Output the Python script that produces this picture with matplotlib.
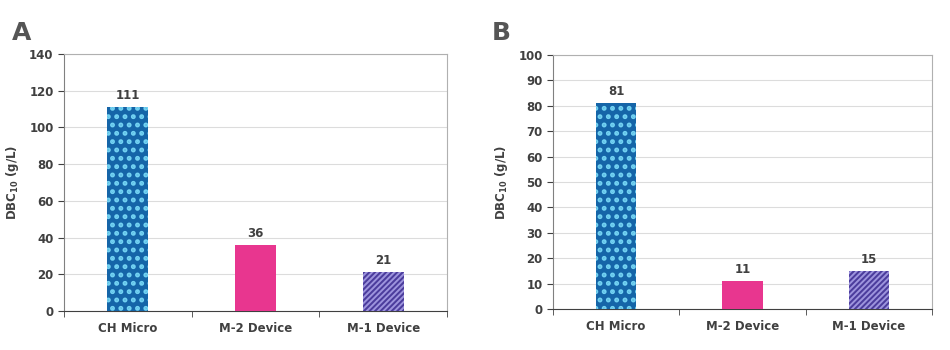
import numpy as np
import matplotlib
matplotlib.use('Agg')
import matplotlib.pyplot as plt

# data
categories = ['CH Micro', 'M-2 Device', 'M-1 Device']
dbc_a = [111, 36, 21]
dbc_b = [81, 11, 15]
ylim_a, ystep_a = 140, 20
ylim_b, ystep_b = 100, 10

plt.rcParams['font.family'] = 'DejaVu Sans'
plt.rcParams['font.weight'] = 'bold'

txt = '#404040'
face = ['#1565a8', '#e8368f', '#4b3c9c']
hatch_col = ['#72d2f2', '#e8368f', '#9d94dd']
hatches = ['..', None, '//////']
hatch_lw = [2.3, 1.0, 1.4]

fig = plt.figure(figsize=(9.5, 3.5), dpi=100)
ax1 = fig.add_axes([64/950, 1-311/350, (447-64)/950, (311-54)/350])
ax2 = fig.add_axes([553/950, 1-309/350, (932-553)/950, (309-55)/350])

for ax, vals, ymax, ystep, letter, lx in [(ax1, dbc_a, ylim_a, ystep_a, 'A', 12/950),
                                          (ax2, dbc_b, ylim_b, ystep_b, 'B', 492/950)]:
    x = np.arange(len(categories))
    for i in range(len(categories)):
        plt.rcParams['hatch.linewidth'] = hatch_lw[i]
        ax.bar(x[i], vals[i], width=0.32, color=face[i], edgecolor=hatch_col[i],
               hatch=hatches[i], linewidth=0, zorder=3)
        ax.text(x[i], vals[i] + ymax*0.02, str(vals[i]), ha='center', va='bottom',
                fontsize=8.5, color=txt, fontweight='bold')
    ax.set_xlim(-0.5, 2.5)
    ax.set_ylim(0, ymax)
    ax.set_yticks(np.arange(0, ymax + 1, ystep))
    ax.yaxis.grid(True, color='#dcdcdc', lw=0.8, zorder=0)
    ax.set_xticks(x)
    ax.set_xticklabels(categories)
    ax.set_xticks([-0.5, 0.5, 1.5, 2.5], minor=True)
    ax.tick_params(axis='x', which='major', length=0, pad=8, labelsize=8.5, labelcolor=txt)
    ax.tick_params(axis='x', which='minor', length=4, color='#404040', direction='out')
    ax.tick_params(axis='y', length=4, color='#404040', labelsize=8.5, labelcolor=txt)
    for s in ['top', 'right']:
        ax.spines[s].set_color('#b0b0b0')
    ax.spines['left'].set_color('#808080')
    ax.spines['bottom'].set_color('#404040')
    ax.set_ylabel('DBC$_{\\mathbf{10}}$ (g/L)', fontsize=8.5, color=txt, fontweight='bold', labelpad=6)
    fig.text(lx, 1-40/350, letter, fontsize=18, fontweight='bold', color='#555555')

fig.savefig('out.png', dpi=100)
